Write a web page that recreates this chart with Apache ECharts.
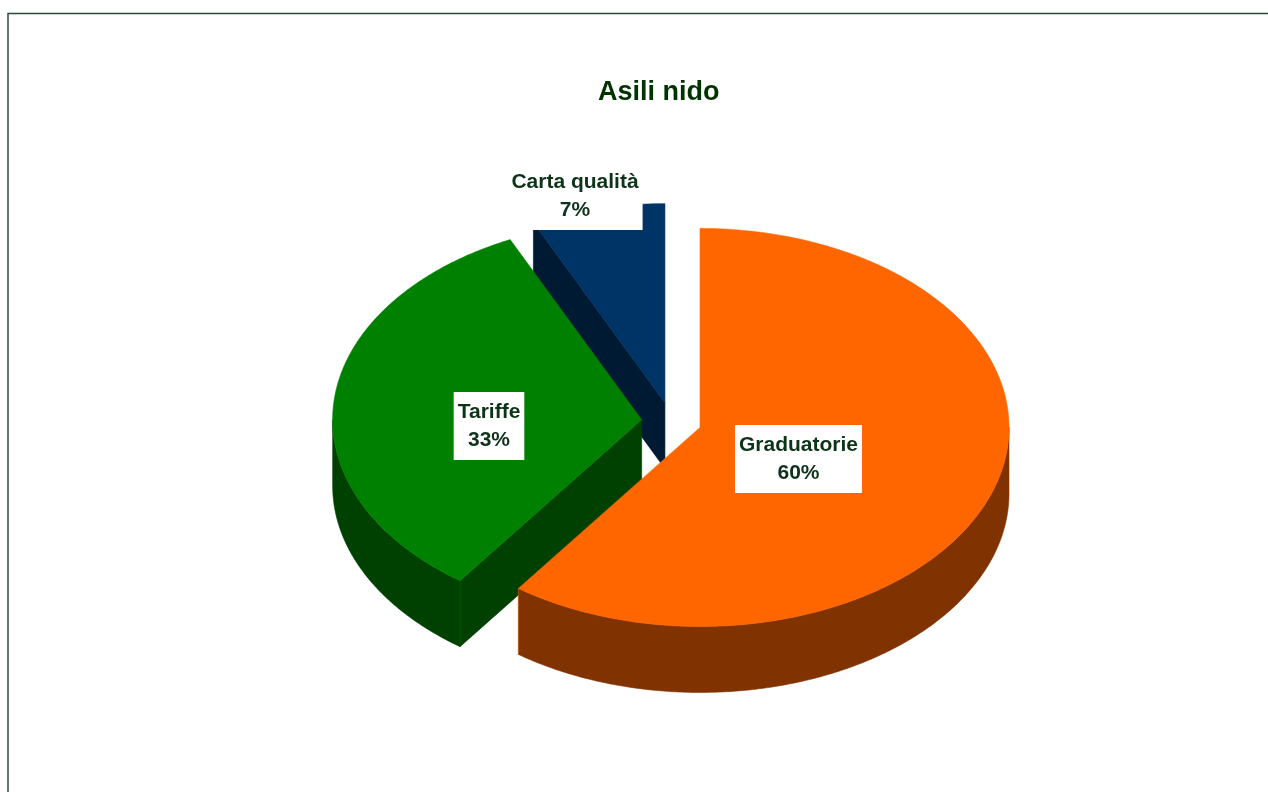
<!DOCTYPE html>
<html><head><meta charset="utf-8">
<style>html,body{margin:0;padding:0;background:#fff}#c{width:1268px;height:792px}</style>
<script src="https://cdn.jsdelivr.net/npm/echarts@6/dist/echarts.min.js"></script>
</head><body><div id="c"></div>
<script>
const titleText = 'Asili nido';
const categories = ['Graduatorie', 'Tariffe', 'Carta qualità'];
const values = [60, 33, 7];
const topColors = ['#ff6600', '#008000', '#003366'];
const wallColors = ['#803300', '#004000', '#001a33'];
const labelCentres = [[798.5, 459], [489, 426], [575, 196]];

const CX = 671.5, CY = 421.5, RX = 309, RY = 199, DEPTH = 66, EXPLODE = 0.097;
const total = values.reduce((a, b) => a + b, 0);
const TAU = Math.PI * 2;
const rim = (c, t) => [c[0] + RX * Math.sin(t), c[1] - RY * Math.cos(t)];
const down = p => [p[0], p[1] + DEPTH];

function arc(c, a, b) {
  const n = Math.max(2, Math.ceil(Math.abs(b - a) / 0.01)), pts = [];
  for (let i = 0; i <= n; i++) pts.push(rim(c, a + (b - a) * i / n));
  return pts;
}
function sliceElements(idx) {
  let before = 0;
  for (let i = 0; i < idx; i++) before += values[i];
  const a = before / total * TAU, b = (before + values[idx]) / total * TAU, m = (a + b) / 2;
  const c = [CX + EXPLODE * RX * Math.sin(m), CY - EXPLODE * RY * Math.cos(m)];
  const wall = wallColors[idx], top = topColors[idx], kids = [];
  const poly = (points, fill) => kids.push({
    type: 'polygon', shape: { points },
    style: { fill, stroke: fill, lineWidth: 0.6 }
  });
  // outer wall on the lower half of the rim
  const lo = Math.max(a, Math.PI / 2), hi = Math.min(b, Math.PI * 1.5);
  if (hi > lo) {
    const r = arc(c, lo, hi);
    poly(r.concat(r.map(down).reverse()), wall);
  }
  // a radial cut face shows when it looks down the screen
  if (Math.sin(a) < -0.01) {
    const p = rim(c, a);
    poly([c, p, down(p), down(c)], wall);
  }
  if (Math.sin(b) > 0.01) {
    const p = rim(c, b);
    poly([c, p, down(p), down(c)], wall);
  }
  // thin highlight on the vertical edge where the outer wall ends
  [lo > Math.PI / 2 ? lo : null, hi < Math.PI * 1.5 ? hi : null].forEach(t => {
    if (t === null || !(hi > lo)) return;
    const p = rim(c, t), q = down(p);
    kids.push({
      type: 'line', shape: { x1: p[0], y1: p[1], x2: q[0], y2: q[1] },
      style: { stroke: top, lineWidth: 1, opacity: 0.4 }
    });
  });
  poly([c].concat(arc(c, a, b)), top);
  return kids;
}

const labelText = i => categories[i] + '\n' + values[i] + '%';

const chart = echarts.init(document.getElementById('c'), null, { renderer: 'canvas' });
chart.setOption({
  animation: false,
  backgroundColor: '#ffffff',
  title: {
    text: titleText, left: 593, top: 74,
    textStyle: { fontFamily: 'Liberation Sans', fontSize: 27, fontWeight: 'bold', color: '#003300' }
  },
  graphic: [{
    type: 'rect', silent: true, z: 0,
    shape: { x: 8, y: 13.5, width: 1300, height: 820 },
    style: { fill: 'none', stroke: '#2c4a38', lineWidth: 1.5 }
  }],
  series: [{
    type: 'custom',
    coordinateSystem: 'none',
    silent: true,
    z: 2,
    // back-to-front painting order
    data: [2, 1, 0].map(i => ({ value: [i, values[i]], name: categories[i] })),
    renderItem: (params, api) => ({ type: 'group', children: sliceElements(api.value(0)) })
  }, {
    type: 'custom',
    coordinateSystem: 'none',
    silent: true,
    z: 3,
    data: categories.map((n, i) => ({ value: [i, values[i]], name: n })),
    renderItem: (params, api) => {
      const i = api.value(0);
      return {
        type: 'text',
        style: {
          x: labelCentres[i][0], y: labelCentres[i][1],
          text: labelText(i), align: 'center', verticalAlign: 'middle',
          font: 'bold 21px "Liberation Sans"', lineHeight: 28,
          fill: '#0d3319', backgroundColor: '#ffffff',
          padding: [6, 4, 6, 4]
        }
      };
    }
  }]
});
</script></body></html>
